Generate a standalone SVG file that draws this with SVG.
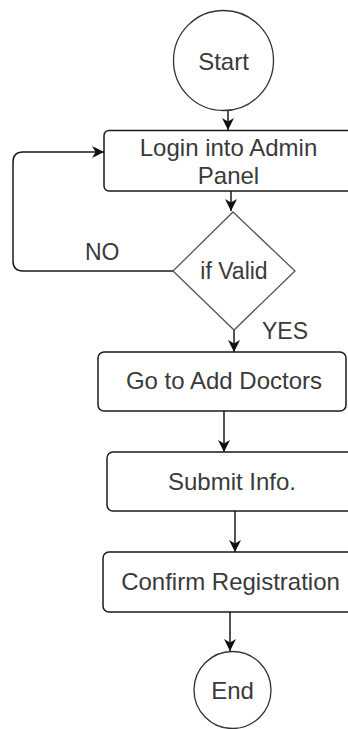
<svg xmlns="http://www.w3.org/2000/svg" width="348" height="729" viewBox="0 0 348 729">
<style>
.shape{fill:#ffffff;stroke:#1a1a1a;stroke-width:1.5}
.circ{fill:#ffffff;stroke:#333333;stroke-width:1.3}
.dia{fill:#ffffff;stroke:#555555;stroke-width:1.3}
.lbl{font-family:"Liberation Sans",Arial,sans-serif;font-size:24px;fill:#3a3a3a;text-anchor:middle}
.edge{fill:none;stroke:#1a1a1a;stroke-width:1.5}
.elbl{font-family:"Liberation Sans",Arial,sans-serif;font-size:23px;fill:#3a3a3a}
</style>
<defs>
<marker id="arr" markerUnits="userSpaceOnUse" markerWidth="12" markerHeight="12" refX="10" refY="5" orient="auto" viewBox="0 0 10 10">
<path d="M0,0 L10,5 L0,10 L3,5 z" fill="#111111"/>
</marker>
</defs>
<rect width="348" height="729" fill="#ffffff"/>
<g id="connectors">
<path class="edge" d="M228,110 L228,130" marker-end="url(#arr)"/>
<path class="edge" d="M231,191 L231,211" marker-end="url(#arr)"/>
<path class="edge" d="M234,330 L234,352" marker-end="url(#arr)"/>
<path class="edge" d="M224,411 L224,452" marker-end="url(#arr)"/>
<path class="edge" d="M235,511 L235,552" marker-end="url(#arr)"/>
<path class="edge" d="M230,612 L230,651" marker-end="url(#arr)"/>
<path class="edge" d="M173,271 L23,271 Q13,271 13,261 L13,162 Q13,152 23,152 L104,152" marker-end="url(#arr)"/>
<text class="elbl" x="85" y="260">NO</text>
<text class="elbl" x="262" y="339">YES</text>
</g>
<g id="start">
<circle class="circ" cx="223.5" cy="60.5" r="50"/>
<text class="lbl" x="223.5" y="70">Start</text>
</g>
<g id="login">
<rect class="shape" x="104" y="130.5" width="250" height="60.5" rx="5"/>
<text class="lbl" x="228.5" y="156">Login into Admin</text>
<text class="lbl" x="228.5" y="184">Panel</text>
</g>
<g id="valid">
<polygon class="dia" points="233,212 295,271 234,330 173,271"/>
<text class="lbl" x="234" y="279" style="font-size:23px">if Valid</text>
</g>
<g id="goto">
<rect class="shape" x="98" y="352" width="248" height="59" rx="6"/>
<text class="lbl" x="224" y="389">Go to Add Doctors</text>
</g>
<g id="submit">
<rect class="shape" x="107" y="452" width="250" height="59" rx="6"/>
<text class="lbl" x="232" y="490">Submit Info.</text>
</g>
<g id="confirm">
<rect class="shape" x="103" y="552" width="250" height="60" rx="6"/>
<text class="lbl" x="230.5" y="590">Confirm Registration</text>
</g>
<g id="end">
<circle class="circ" cx="232.5" cy="690" r="38.5"/>
<text class="lbl" x="232.5" y="699">End</text>
</g>
</svg>
